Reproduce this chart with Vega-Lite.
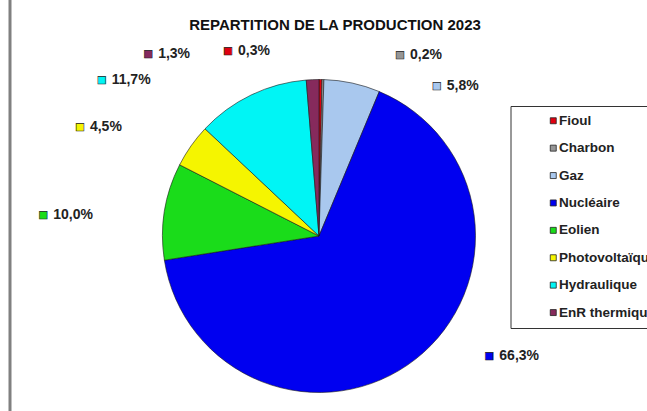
{
  "$schema": "https://vega.github.io/schema/vega-lite/v6.json",
  "width": 618,
  "height": 472,
  "autosize": {"type": "none"},
  "padding": {"left": 10, "top": 0, "right": 19, "bottom": -61},
  "background": "white",
  "title": {
    "text": "REPARTITION DE LA PRODUCTION 2023",
    "font": "Liberation Sans",
    "fontSize": 15,
    "fontWeight": "bold",
    "color": "#111111",
    "anchor": "middle",
    "frame": "group",
    "offset": -34,
    "dx": 16
  },
  "config": {
    "view": {"stroke": null},
    "legend": {
      "orient": "none",
      "legendX": 500.5,
      "legendY": 106,
      "direction": "vertical",
      "padding": 8,
      "strokeColor": "#333333",
      "fillColor": "white",
      "symbolType": "square",
      "symbolSize": 36,
      "symbolStrokeWidth": 0.8,
      "symbolStrokeColor": "#222222",
      "labelFont": "Liberation Sans",
      "labelFontSize": 13.5,
      "labelFontWeight": "bold",
      "labelColor": "#222222",
      "rowPadding": 12.4,
      "symbolOffset": 28,
      "labelOffset": -1,
      "labelLimit": 300
    }
  },
  "data": {
    "values": [
      {"source": "Fioul", "part": 0.3, "libelle": "0,3%", "ordre": 1},
      {"source": "Charbon", "part": 0.2, "libelle": "0,2%", "ordre": 2},
      {"source": "Gaz", "part": 5.8, "libelle": "5,8%", "ordre": 3},
      {"source": "Nucléaire", "part": 66.3, "libelle": "66,3%", "ordre": 4},
      {"source": "Eolien", "part": 10.0, "libelle": "10,0%", "ordre": 5},
      {"source": "Photovoltaïque", "part": 4.5, "libelle": "4,5%", "ordre": 6},
      {"source": "Hydraulique", "part": 11.7, "libelle": "11,7%", "ordre": 7},
      {"source": "EnR thermique", "part": 1.3, "libelle": "1,3%", "ordre": 8}
    ]
  },
  "layer": [
    {
      "data": {"values": [{"bord": 0}]},
      "mark": {"type": "rule", "color": "#808080", "strokeWidth": 3},
      "encoding": {
        "x": {"field": "bord", "type": "quantitative", "scale": {"domain": [0, 1]}, "axis": null}
      }
    },
    {
      "mark": {"type": "arc", "outerRadius": 156.5, "stroke": "#1a1a1a", "strokeWidth": 0.6},
      "encoding": {
        "theta": {"field": "part", "type": "quantitative", "stack": true},
        "order": {"field": "ordre", "type": "quantitative"},
        "color": {
          "field": "source",
          "type": "nominal",
          "title": null,
          "scale": {
            "domain": ["Fioul", "Charbon", "Gaz", "Nucléaire", "Eolien", "Photovoltaïque", "Hydraulique", "EnR thermique"],
            "range": ["#E00010", "#969696", "#A9C8EE", "#0000F0", "#1ADC1A", "#F5F500", "#00F5F5", "#862A5C"]
          }
        }
      }
    },
    {
      "mark": {
        "type": "text",
        "text": "■",
        "font": "DejaVu Sans",
        "fontSize": 10,
        "align": "center",
        "baseline": "middle",
        "stroke": "#222222",
        "strokeWidth": 0.6,
        "dx": {"expr": "[-82.6, 86.6, 90.7, 72.3, -92.9, -86, -131.4, -153.7][datum.ordre - 1] - 10"},
        "dy": {"expr": "[-10, -6, 21.5, -17.7, 6.2, -8, 1.7, -7][datum.ordre - 1]"}
      },
      "encoding": {
        "theta": {"field": "part", "type": "quantitative", "stack": true},
        "order": {"field": "ordre", "type": "quantitative"},
        "radius": {"value": 175},
        "color": {"field": "source", "type": "nominal", "title": null}
      }
    },
    {
      "mark": {
        "type": "text",
        "font": "Liberation Sans",
        "fontSize": 14,
        "fontWeight": "bold",
        "color": "#222222",
        "align": "left",
        "baseline": "middle",
        "dx": {"expr": "[-82.6, 86.6, 90.7, 72.3, -92.9, -86, -131.4, -153.7][datum.ordre - 1]"},
        "dy": {"expr": "[-10, -6, 21.5, -17.7, 6.2, -8, 1.7, -7][datum.ordre - 1]"}
      },
      "encoding": {
        "theta": {"field": "part", "type": "quantitative", "stack": true},
        "order": {"field": "ordre", "type": "quantitative"},
        "radius": {"value": 175},
        "text": {"field": "libelle", "type": "nominal"}
      }
    }
  ]
}
